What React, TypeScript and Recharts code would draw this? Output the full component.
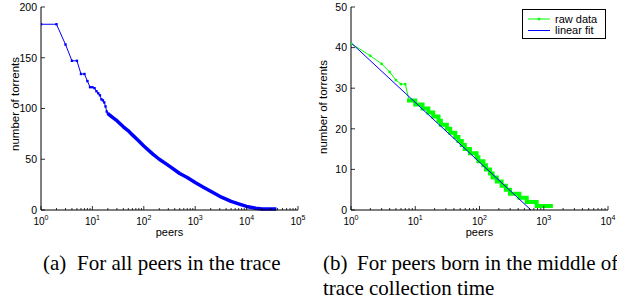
import React from 'react';
import { LineChart, Line, XAxis, YAxis, Legend } from 'recharts';

// ---- Data: left panel (all peers) ----
const leftPeersSparse = [1, 2, 3, 4, 5, 6, 7, 8, 9, 10, 11, 12, 13, 14, 15, 16, 17, 18, 19, 20];
const leftTorrentsSparse = [183, 183, 163, 147, 147, 134, 134, 127, 121, 121, 120, 117, 115, 113, 109, 108, 106, 102, 97, 95];
const leftPeersDense = [20, 25, 30, 40, 50, 60, 80, 100, 150, 200, 300, 500, 700, 1000, 1500, 2000, 3000, 5000, 7000, 10000, 15000, 20000, 38000];
const leftTorrentsDense = [95, 91, 88, 82, 78, 74, 68, 63, 55, 50, 44, 36, 32, 27, 22, 18.5, 13.5, 8.5, 6, 3.5, 1.8, 1, 1];

// ---- Data: right panel (peers born in middle of trace) ----
const rightPeersSparse = [1, 2, 3, 4, 5, 6, 7, 8];
const rightTorrentsSparse = [41, 38, 36, 34, 32, 31, 31, 27];
const rightPeersSteps = [8, 10, 13, 16, 19, 23, 25, 31, 35, 42, 47, 53, 59, 71, 90, 96, 115, 126, 146, 160, 186, 221, 257, 298, 417, 543, 776, 1290];
const rightTorrentsSteps = [27, 26, 25, 24, 23, 22, 21, 20, 19, 18, 17, 16, 15, 14, 13, 12, 11, 10, 9, 8, 7, 6, 5, 4, 3, 2, 1, 1];
const fitPeers = [1, 632];
const fitTorrents = [41.2, 0];

// ---- Ticks ----
const leftXTicks = [1, 10, 100, 1000, 10000, 100000];
const rightXTicks = [1, 10, 100, 1000, 10000];
const leftYTicks = [0, 50, 100, 150, 200];
const rightYTicks = [0, 10, 20, 30, 40, 50];

const zip = (xs: number[], ys: number[]) => xs.map((x, i) => ({ x, y: ys[i] }));
const withMinor = (majors: number[]) => {
  const out: number[] = [];
  majors.forEach((m, i) => {
    out.push(m);
    if (i < majors.length - 1) for (let k = 2; k <= 9; k++) out.push(m * k);
  });
  return out;
};

const BLUE = '#0000ff';
const GREEN = '#00ff00';
const SANS = 'Liberation Sans, Arial, sans-serif';
const SERIF = 'Liberation Serif, Times New Roman, serif';

const isMajor = (v: number) => {
  const e = Math.log10(v);
  return Math.abs(e - Math.round(e)) < 1e-6;
};

const BottomTick = (props: any) => {
  const { x, y, payload } = props;
  const v = payload.value;
  const major = isMajor(v);
  return (
    <g>
      <line x1={x} x2={x} y1={y} y2={y - (major ? 4 : 2)} stroke="#000" strokeWidth={0.8} />
      {major && (
        <text x={x} y={y + 15} textAnchor="middle" fontSize={10} fontFamily={SANS} fill="#000">
          <tspan>10</tspan>
          <tspan dy={-5.5} fontSize={7}>{Math.round(Math.log10(v))}</tspan>
        </text>
      )}
    </g>
  );
};

const TopTick = (props: any) => {
  const { x, y, payload } = props;
  const major = isMajor(payload.value);
  return <line x1={x} x2={x} y1={y} y2={y + (major ? 4 : 2)} stroke="#000" strokeWidth={0.8} />;
};

const LeftTick = (props: any) => {
  const { x, y, payload } = props;
  return (
    <g>
      <line x1={x} x2={x + 4} y1={y} y2={y} stroke="#000" strokeWidth={0.8} />
      <text x={x - 4} y={y} dy="0.36em" textAnchor="end" fontSize={10.5} fontFamily={SANS} fill="#000">
        {payload.value}
      </text>
    </g>
  );
};

const RightTick = (props: any) => {
  const { x, y } = props;
  return <line x1={x} x2={x - 4} y1={y} y2={y} stroke="#000" strokeWidth={0.8} />;
};

const squareDot = (color: string) => (p: any) => (
  <rect key={`d-${p.index}`} x={p.cx - 1.2} y={p.cy - 1.2} width={2.4} height={2.4} fill={color} />
);

const axisLine = { stroke: '#000', strokeWidth: 1 };

const LegendBox = () => (
  <div style={{ width: 84, height: 30, border: '1px solid #000', background: '#fff', boxSizing: 'border-box', position: 'relative', fontFamily: SANS, fontSize: 11 }}>
    <svg width={84} height={30} style={{ position: 'absolute', left: 0, top: 0 }}>
      <line x1={5} x2={27} y1={9} y2={9} stroke={GREEN} strokeWidth={1} />
      <rect x={14.8} y={7.8} width={2.4} height={2.4} fill={GREEN} />
      <text x={32} y={9} dy="0.36em" fontSize={11} fontFamily={SANS} fill="#000">raw data</text>
      <line x1={5} x2={27} y1={20.5} y2={20.5} stroke={BLUE} strokeWidth={1} />
      <text x={32} y={20.5} dy="0.36em" fontSize={11} fontFamily={SANS} fill="#000">linear fit</text>
    </svg>
  </div>
);

export default function App() {
  const leftSparse = zip(leftPeersSparse, leftTorrentsSparse);
  const leftDense = zip(leftPeersDense, leftTorrentsDense);
  const rightSparse = zip(rightPeersSparse, rightTorrentsSparse);
  const rightSteps = zip(rightPeersSteps, rightTorrentsSteps);
  const fit = zip(fitPeers, fitTorrents);

  return (
    <div style={{ position: 'absolute', left: 0, top: 0, width: 617, height: 305, background: '#fff', overflow: 'hidden' }}>
      <div style={{ position: 'absolute', left: 0, top: 0 }}>
        <LineChart width={310} height={240} margin={{ top: 7, right: 12, bottom: 0, left: 0 }}>
          <XAxis dataKey="x" type="number" scale="log" domain={[1, 100000]} allowDataOverflow ticks={withMinor(leftXTicks)} interval={0}
            height={30} tickSize={0} tickMargin={0} tickLine={false} axisLine={axisLine} tick={<BottomTick />} />
          <XAxis xAxisId="top" orientation="top" dataKey="x" type="number" scale="log" domain={[1, 100000]} allowDataOverflow ticks={withMinor(leftXTicks)} interval={0}
            height={0} tickSize={0} tickMargin={0} tickLine={false} axisLine={axisLine} tick={<TopTick />} />
          <YAxis type="number" domain={[0, 200]} ticks={leftYTicks} interval={0} width={41} tickSize={0} tickMargin={0} tickLine={false} axisLine={axisLine} tick={<LeftTick />} />
          <YAxis yAxisId="right" orientation="right" type="number" domain={[0, 200]} ticks={leftYTicks} interval={0} width={0} tickSize={0} tickMargin={0} tickLine={false} axisLine={axisLine} tick={<RightTick />} />
          <Line data={leftSparse} dataKey="y" stroke={BLUE} strokeWidth={1} dot={squareDot(BLUE)} isAnimationActive={false} />
          <Line data={leftDense} dataKey="y" stroke={BLUE} strokeWidth={3.5} strokeLinejoin="round" dot={false} isAnimationActive={false} />
        </LineChart>
      </div>
      <div style={{ position: 'absolute', left: 310, top: 0 }}>
        <LineChart width={307} height={240} margin={{ top: 7, right: 9, bottom: 0, left: 0 }}>
          <XAxis dataKey="x" type="number" scale="log" domain={[1, 10000]} allowDataOverflow ticks={withMinor(rightXTicks)} interval={0}
            height={30} tickSize={0} tickMargin={0} tickLine={false} axisLine={axisLine} tick={<BottomTick />} />
          <XAxis xAxisId="top" orientation="top" dataKey="x" type="number" scale="log" domain={[1, 10000]} allowDataOverflow ticks={withMinor(rightXTicks)} interval={0}
            height={0} tickSize={0} tickMargin={0} tickLine={false} axisLine={axisLine} tick={<TopTick />} />
          <YAxis type="number" domain={[0, 50]} ticks={rightYTicks} interval={0} width={41} tickSize={0} tickMargin={0} tickLine={false} axisLine={axisLine} tick={<LeftTick />} />
          <YAxis yAxisId="right" orientation="right" type="number" domain={[0, 50]} ticks={rightYTicks} interval={0} width={0} tickSize={0} tickMargin={0} tickLine={false} axisLine={axisLine} tick={<RightTick />} />
          <Line data={rightSparse} dataKey="y" stroke={GREEN} strokeWidth={1} dot={squareDot(GREEN)} isAnimationActive={false} />
          <Line data={rightSteps} dataKey="y" type="stepAfter" stroke={GREEN} strokeWidth={4} strokeLinecap="square" dot={false} isAnimationActive={false} />
          <Line data={fit} dataKey="y" stroke={BLUE} strokeWidth={1} dot={false} isAnimationActive={false} />
          <Legend layout="horizontal" verticalAlign="middle" align="center"
            wrapperStyle={{ position: 'absolute', left: 212, top: 9, width: 84, height: 30 }} content={() => <LegendBox />} />
        </LineChart>
      </div>
      <svg width={617} height={305} style={{ position: 'absolute', left: 0, top: 0, pointerEvents: 'none' }}>
        <text transform="translate(18.5,104) rotate(-90)" textAnchor="middle" fontSize={11.5} fontFamily={SANS} fill="#000">number of torrents</text>
        <text transform="translate(327,107) rotate(-90)" textAnchor="middle" fontSize={11.5} fontFamily={SANS} fill="#000">number of torrents</text>
        <text x={169.5} y={236} textAnchor="middle" fontSize={11} fontFamily={SANS} fill="#000">peers</text>
        <text x={479.5} y={236} textAnchor="middle" fontSize={11} fontFamily={SANS} fill="#000">peers</text>
        <text x={43} y={270} fontSize={21} fontFamily={SERIF} fill="#000">(a)</text>
        <text x={77} y={270} fontSize={21} fontFamily={SERIF} fill="#000">For all peers in the trace</text>
        <text x={323} y={270} fontSize={21} fontFamily={SERIF} fill="#000">(b)</text>
        <text x={357} y={270} fontSize={21} fontFamily={SERIF} fill="#000">For peers born in the middle of the</text>
        <text x={323} y={295} fontSize={21} fontFamily={SERIF} fill="#000">trace collection time</text>
      </svg>
    </div>
  );
}
